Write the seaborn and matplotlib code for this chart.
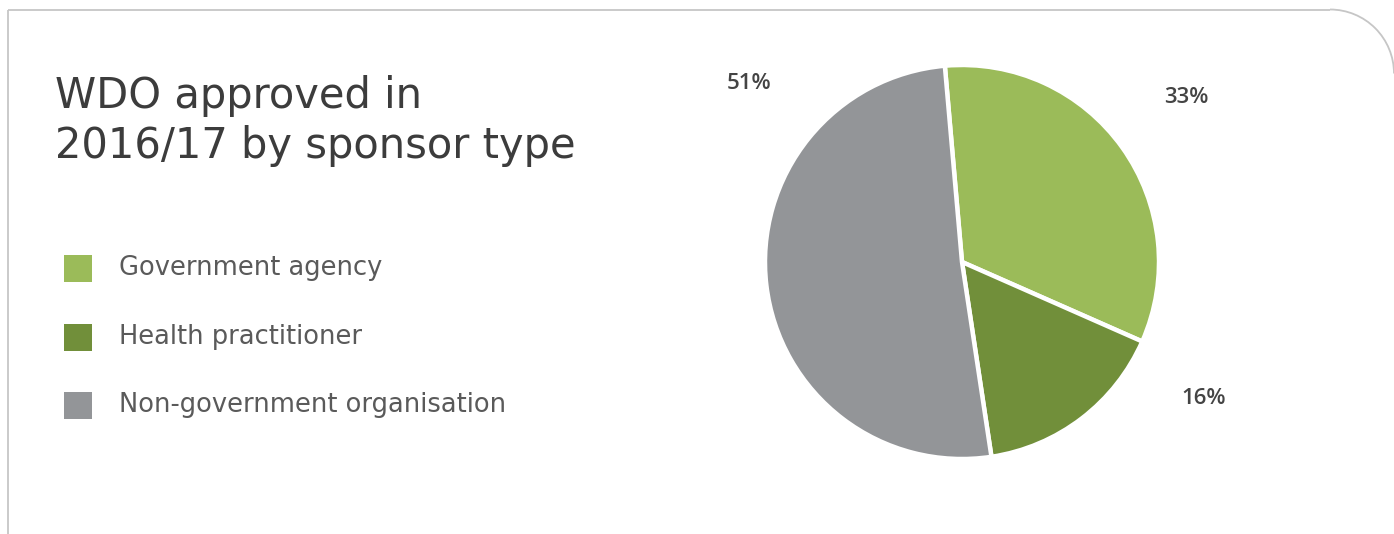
import numpy as np
import matplotlib
matplotlib.use("Agg")
import matplotlib.pyplot as plt
from matplotlib.patches import Arc
import seaborn as sns

# ---- data ----
categories = ["Government agency", "Health practitioner", "Non-government organisation"]
shares = [33, 16, 51]
pct_labels = ["33%", "16%", "51%"]
colors = ["#9BBB59", "#718F3A", "#939598"]
title_lines = ["WDO approved in", "2016/17 by sponsor type"]

sns.set_theme(style="white")
plt.rcParams["font.family"] = ["DejaVu Sans"]

W, H = 1394, 534
fig = plt.figure(figsize=(W / 100, H / 100), dpi=100)
fig.patch.set_facecolor("white")

def px(x, y, w, h):
    return [x / W, 1 - (y + h) / H, w / W, h / H]

# border frame (top + left + rounded top-right corner)
bg = fig.add_axes([0, 0, 1, 1])
bg.set_xlim(0, W)
bg.set_ylim(H, 0)
bg.axis("off")
bc = "#c6c6c6"
rad = 64
bg.plot([7.5, 7.5], [9.5, H], color=bc, lw=1.3, solid_capstyle="butt")
bg.plot([7.5, 1330], [9.5, 9.5], color=bc, lw=1.3, solid_capstyle="butt")
bg.add_patch(Arc((1330, 9.5 + rad), 2 * rad, 2 * rad, theta1=270, theta2=360,
                 edgecolor=bc, lw=1.3))

# title
for i, line in enumerate(title_lines):
    bg.text(55, 108 + 50 * i, line, fontsize=30, color="#3c3c3c", ha="left",
            va="baseline", family=["DejaVu Sans"])

# legend
leg_y = [268, 337, 405]
for cat, col, y in zip(categories, colors, leg_y):
    bg.add_patch(plt.Rectangle((64, y - 13.5), 28, 27, color=col, lw=0))
    bg.text(119, y, cat, fontsize=18.5, color="#5a5a5a", ha="left", va="center",
            family=["DejaVu Sans"], fontweight="normal")

# pie
cx, cy, r = 962, 262, 197
ax = fig.add_axes(px(cx - r, cy - r, 2 * r, 2 * r))
wedges, _ = ax.pie(shares, colors=colors, startangle=95, counterclock=False,
                   wedgeprops=dict(edgecolor="white", linewidth=3.2))
ax.set_xlim(-1, 1)
ax.set_ylim(-1, 1)
ax.set_aspect("equal")

label_angles = [36.2, -29.5, 140]
label_r = 1.41
for lab, a in zip(pct_labels, label_angles):
    t = np.deg2rad(a)
    ax.text(label_r * np.cos(t), label_r * np.sin(t), lab, fontsize=16,
            color="#444444", ha="center", va="center", fontweight="semibold",
            family=["Open Sans", "DejaVu Sans"], clip_on=False)

fig.savefig("out.png", dpi=100, facecolor="white")
